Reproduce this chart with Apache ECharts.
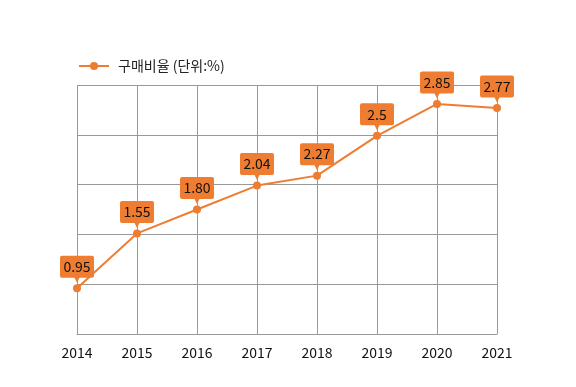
<!DOCTYPE html>
<html><head><meta charset="utf-8">
<script src="https://cdn.jsdelivr.net/npm/echarts@6/dist/echarts.min.js"></script>
<style>html,body{margin:0;padding:0;background:#fff}#c{width:576px;height:387px}</style>
</head><body><div id="c"></div>
<script>
const categories = ['2014','2015','2016','2017','2018','2019','2020','2021'];
const values = [0.96, 1.51, 1.75, 1.99, 2.09, 2.49, 2.81, 2.77];
const labelTexts = ['0.95','1.55','1.80','2.04','2.27','2.5','2.85','2.77'];
const seriesName = '구매비율 (단위:%)';
const orange = '#EE7D31';
const font = "'Noto Sans CJK KR', 'Noto Sans', sans-serif";
const chart = echarts.init(document.getElementById('c'));
chart.setOption({
  animation: false,
  textStyle: { fontFamily: font },
  legend: {
    data: [seriesName], left: 73, top: 54, itemWidth: 30, itemHeight: 10, itemGap: 8,
    textStyle: { fontSize: 14, color: '#222', fontFamily: font, padding: [0, 0, 0, 4] }
  },
  grid: { left: 77, right: 79, top: 85, bottom: 53, containLabel: false },
  xAxis: {
    type: 'category', data: categories, boundaryGap: false,
    axisLine: { lineStyle: { color: '#999' } }, axisTick: { show: false },
    axisLabel: { color: '#111', fontSize: 14, margin: 12, fontFamily: font },
    splitLine: { show: true, lineStyle: { color: '#999', width: 1 } }
  },
  yAxis: {
    type: 'value', min: 0.5, max: 3.0, interval: 0.5,
    axisLine: { show: false }, axisTick: { show: false }, axisLabel: { show: false },
    splitLine: { lineStyle: { color: '#999', width: 1 } }
  },
  series: [
    {
      name: seriesName, type: 'line', data: values,
      symbol: 'circle', symbolSize: 8,
      lineStyle: { color: orange, width: 2 }, itemStyle: { color: orange },
      z: 3
    },
    {
      name: 'labels', type: 'scatter', data: values,
      symbol: 'path://M2,0 H32 Q34,0 34,2 V20 Q34,22 32,22 H19.5 L17,27 L14.5,22 H2 Q0,22 0,20 V2 Q0,0 2,0 Z',
      symbolSize: [34, 27], symbolOffset: [0, -19], symbolKeepAspect: false,
      itemStyle: { color: orange, opacity: 1 },
      label: {
        show: true, position: 'inside', offset: [0, -2.5], color: '#111', fontSize: 14, fontFamily: font,
        formatter: p => labelTexts[p.dataIndex]
      },
      silent: true, z: 4
    }
  ]
});
</script></body></html>
